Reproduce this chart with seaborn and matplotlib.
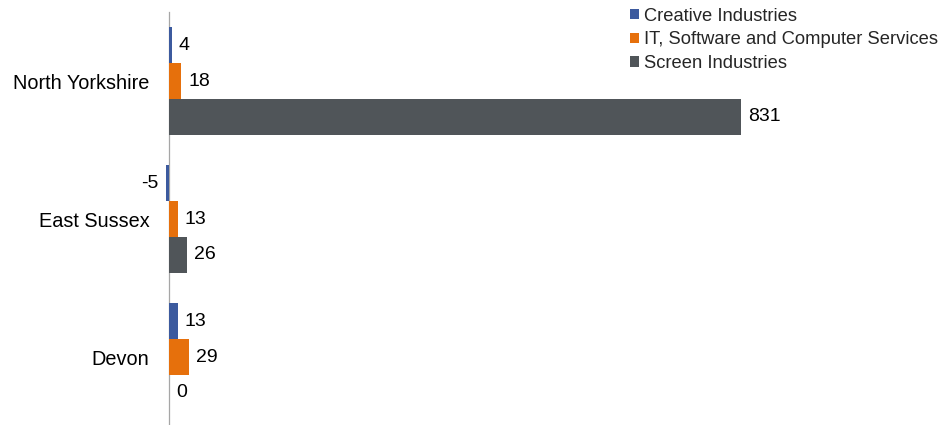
import matplotlib
matplotlib.use("Agg")
import matplotlib.pyplot as plt
from matplotlib.patches import Patch
import seaborn as sns
import pandas as pd

regions = ["North Yorkshire", "East Sussex", "Devon"]
sectors = ["Creative Industries", "IT, Software and Computer Services", "Screen Industries"]
creative = [4, -5, 13]
it_software = [18, 13, 29]
screen = [831, 26, 0]
colors = ["#3C5A9E", "#E6700C", "#505559"]

df = pd.DataFrame({
    "region": regions * 3,
    "sector": [sectors[0]] * 3 + [sectors[1]] * 3 + [sectors[2]] * 3,
    "value": creative + it_software + screen,
})

sns.set_theme(style="white")
plt.rcParams["font.family"] = ["Liberation Sans", "DejaVu Sans"]

W, H = 944, 425
fig = plt.figure(figsize=(W / 100, H / 100), dpi=100)
x0_px, x_right_px = 169.0, 940
px_per_unit = (741 - 169.0) / 831
xmin = -(x0_px - 120) / px_per_unit
xmax = (x_right_px - x0_px) / px_per_unit
ax = fig.add_axes([120 / W, -1 / H, (x_right_px - 120) / W, 414 / H])

sns.barplot(data=df, y="region", x="value", hue="sector", order=regions,
            hue_order=sectors, palette=colors, orient="h", width=0.78,
            saturation=1, ax=ax, legend=False, errorbar=None)

ax.set_xlim(xmin, xmax)
ax.set_ylim(2.5, -0.5)
ax.set_xlabel("")
ax.set_ylabel("")
ax.set_xticks([])
for side in ["top", "right", "bottom"]:
    ax.spines[side].set_visible(False)
ax.spines["left"].set_position(("data", 0))
ax.spines["left"].set_color("#A6A6A6")
ax.spines["left"].set_linewidth(0.9)
ax.spines["left"].set_zorder(0.5)
ax.tick_params(axis="y", length=0, pad=14, labelsize=14.3, labelcolor="#000000")

for container in ax.containers:
    for bar in container:
        bar.set_edgecolor("none")
        bar.set_zorder(2)
    ax.bar_label(container, fmt="%d", padding=5, fontsize=14, color="#000000")

handles = [Patch(facecolor=c, edgecolor="none") for c in colors]
fig.legend(handles, sectors, loc="upper right", bbox_to_anchor=(942 / W, 1.0 - 4 / H),
           frameon=False, fontsize=13.2, handlelength=0.5, handleheight=0.5,
           handletextpad=0.3, labelspacing=0.36, borderpad=0.2, borderaxespad=0)

fig.savefig("out.png", dpi=100)
